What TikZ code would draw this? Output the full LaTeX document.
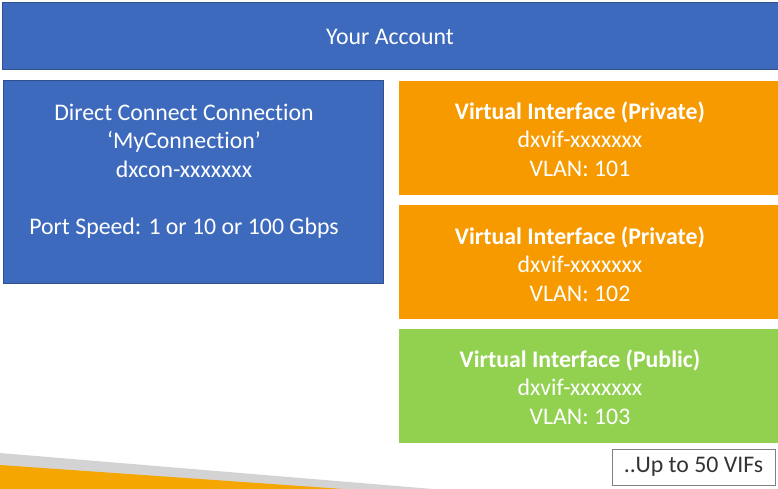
\documentclass[tikz,border=0pt]{standalone}
\usepackage{fontspec}
\setmainfont{Carlito}[Ligatures=NoCommon]
\definecolor{acctblue}{RGB}{62,106,190}
\definecolor{edgeblue}{RGB}{47,82,143}
\definecolor{vifprivate}{RGB}{246,154,0}
\definecolor{vifpublic}{RGB}{146,208,80}
\definecolor{stripegray}{RGB}{211,211,211}
\definecolor{stripeorange}{RGB}{246,166,0}
\begin{document}
\begin{tikzpicture}[x=1pt, y=-1pt,
  every node/.style={font=\fontsize{23.8}{28.6}\selectfont, align=center},
  bluebox/.style={draw=edgeblue, line width=0.8pt, fill=acctblue, anchor=north west, inner sep=0pt},
  vifbox/.style={fill=#1, anchor=north west, inner sep=0pt, minimum width=380pt, minimum height=114pt},
  label/.style={text=white}]

  \useasboundingbox (0,0) rectangle (778,489);

  % 1. 下の帯（灰色・橙色）
  \fill[stripegray] (0,453) -- (433,489) -- (0,489) -- cycle;
  \fill[stripeorange] (0,465) -- (343,489) -- (0,489) -- cycle;

  % 2. アカウント
  \node[bluebox, minimum width=780pt, minimum height=67pt] (account) at (2,2) {};
  \node[label] (accounttext) at (390,37) {Your Account};

  % 3. 接続
  \node[bluebox, minimum width=380pt, minimum height=203pt] (conn) at (3,80) {};
  \node[label] (conntext) at (184,171)
    {Direct Connect Connection\\ ‘MyConnection’\\ dxcon-xxxxxxx\\[28.6pt] Port Speed: 1 or 10 or 100 Gbps};

  % 4. 仮想インターフェース
  \node[vifbox=vifprivate] (vifa) at (399,81) {};
  \node[label] (vifatext) at (580,139) {\textbf{Virtual Interface (Private)}\\ dxvif-xxxxxxx\\ VLAN: 101};

  \node[vifbox=vifprivate] (vifb) at (399,205) {};
  \node[label] (vifbtext) at (580,264) {\textbf{Virtual Interface (Private)}\\ dxvif-xxxxxxx\\ VLAN: 102};

  \node[vifbox=vifpublic] (vifc) at (399,329) {};
  \node[label] (vifctext) at (580,387) {\textbf{Virtual Interface (Public)}\\ dxvif-xxxxxxx\\ VLAN: 103};

  % 5. 注記
  \node[draw=gray, line width=0.8pt, text=black!80, minimum width=163pt, minimum height=36pt,
    inner sep=0pt] (limit) at (693.5,467) {..Up to 50 VIFs};

\end{tikzpicture}
\end{document}
